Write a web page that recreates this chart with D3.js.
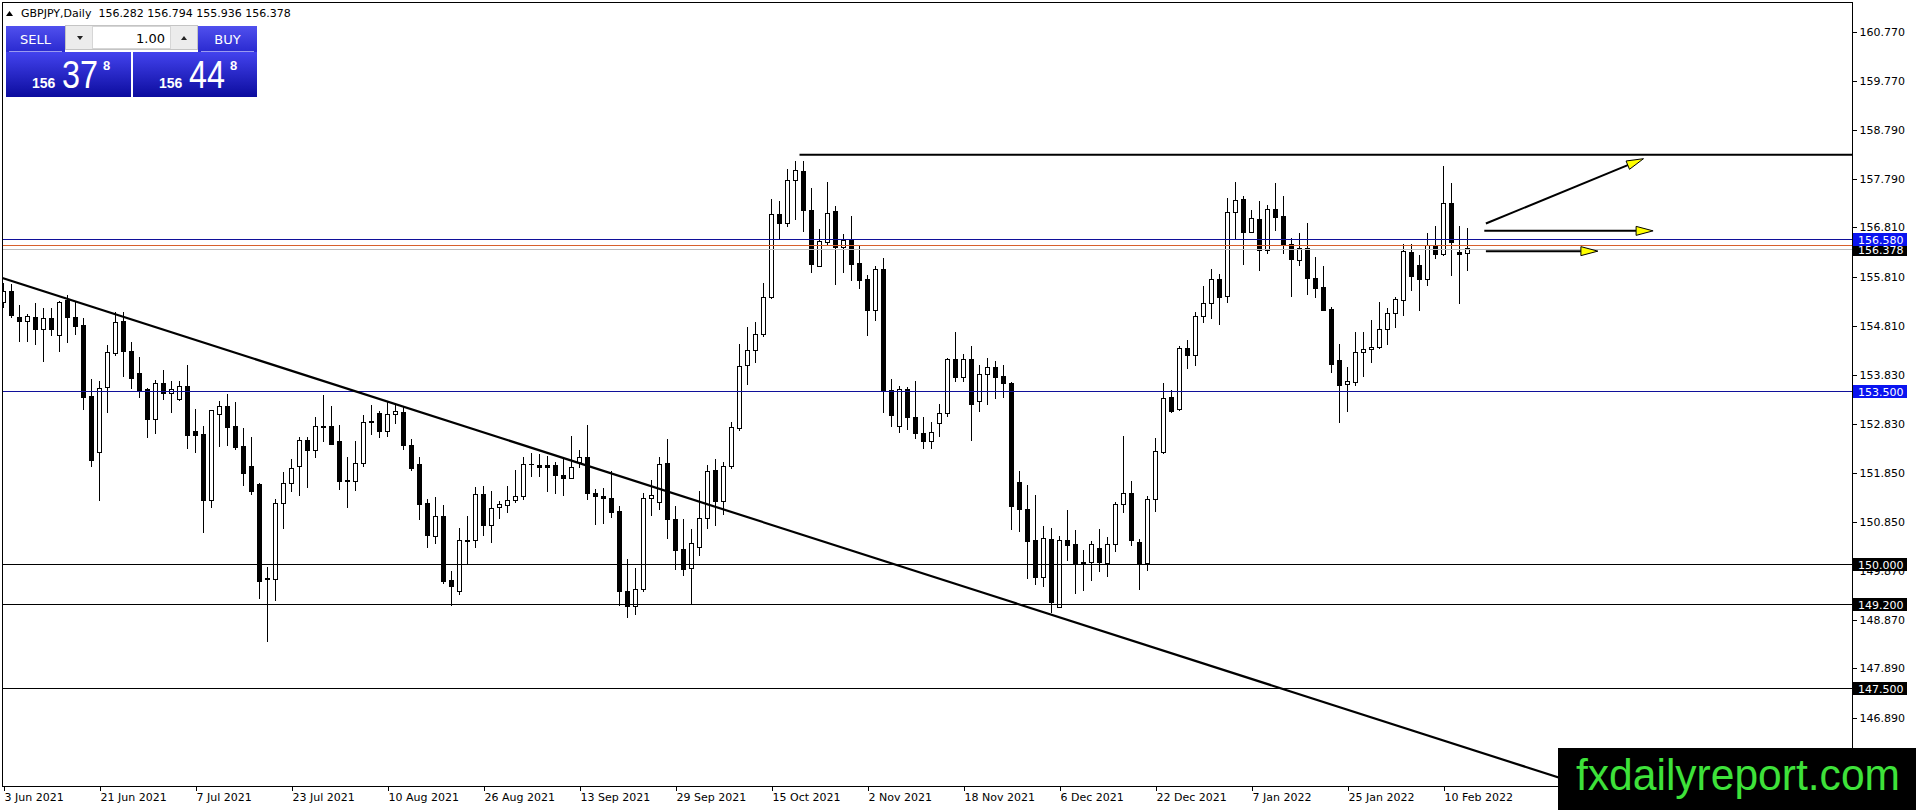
<!DOCTYPE html>
<html>
<head>
<meta charset="utf-8">
<script src="https://cdn.jsdelivr.net/npm/d3@7"></script>
<style>
html, body { margin: 0; padding: 0; background: #fff; overflow: hidden; }
svg { display: block; }
</style>
</head>
<body>
<svg id="chart" width="1916" height="810"></svg>
<script>
// --- daily candles, 3 Jun 2021 .. 15 Feb 2022 (one value per bar) ---
const opens = [
  155.30,155.52,154.98,154.91,154.98,154.74,154.96,154.63,155.33,154.98,
  154.82,153.39,152.26,153.58,154.25,154.90,154.29,153.86,153.53,152.93,
  153.66,153.45,153.32,153.60,152.69,152.62,151.29,153.03,153.19,152.79,
  152.37,151.97,151.61,149.70,149.68,151.22,151.62,151.98,152.49,152.30,
  152.79,152.79,152.48,151.68,151.68,152.03,152.87,153.04,152.69,153.02,
  153.06,152.40,152.01,151.23,150.55,150.97,149.67,149.44,150.47,150.47,
  151.40,150.77,151.15,151.19,151.29,151.37,152.02,152.00,151.99,151.99,
  151.79,151.74,152.06,152.16,151.42,151.36,151.32,151.07,149.45,149.15,
  149.48,151.32,151.24,152.03,150.91,150.29,149.90,150.33,150.93,151.89,
  151.27,151.98,152.74,154.01,154.33,154.65,155.39,157.07,156.89,157.76,
  157.94,157.16,156.02,156.50,157.13,156.41,156.55,156.07,155.75,155.13,
  155.96,153.52,152.78,153.53,152.97,152.64,152.48,152.85,153.05,154.14,
  153.77,154.14,153.28,153.83,153.97,153.80,153.66,151.65,151.11,150.47,
  149.72,150.50,149.13,150.47,150.39,150.04,150.04,150.32,150.02,150.40,
  151.21,151.43,150.44,150.01,151.31,152.26,153.36,153.12,154.37,154.21,
  155.00,155.28,155.75,155.41,157.12,157.37,156.71,156.98,156.35,157.17,
  157.03,156.47,156.14,156.39,155.78,155.59,155.14,154.11,153.64,153.67,
  154.28,154.34,154.39,154.75,155.07,155.33,156.31,156.03,155.76,156.45,
  156.26,157.29,156.31,156.282
];
const highs = [
  155.69,155.67,155.25,155.06,155.29,155.18,155.18,155.32,155.45,155.30,
  154.98,153.75,153.70,154.44,155.09,155.09,154.50,154.19,153.56,153.73,
  153.93,153.70,153.71,154.03,153.14,152.80,153.12,153.30,153.45,153.27,
  152.75,152.57,151.63,149.95,151.31,151.87,152.13,152.57,152.57,152.97,
  153.41,153.19,152.82,152.17,152.48,153.02,153.22,153.09,153.28,153.24,
  153.19,152.53,152.17,151.31,151.36,151.19,149.85,150.73,150.98,151.56,
  151.57,151.47,151.27,151.57,151.91,152.16,152.24,152.22,152.19,152.06,
  152.14,152.59,152.30,152.81,151.52,151.54,151.89,151.17,150.11,149.92,
  151.44,151.71,152.16,152.53,151.17,150.91,150.71,151.47,152.01,152.12,
  152.06,152.88,154.46,154.79,154.90,155.69,157.38,157.34,158.00,158.16,
  158.16,157.61,156.77,157.72,157.24,156.67,157.05,156.45,155.85,156.03,
  156.20,153.74,153.61,153.59,153.70,152.97,152.88,153.23,154.16,154.69,
  154.24,154.41,154.02,154.17,154.10,154.02,153.68,151.89,151.60,151.40,
  150.77,150.73,150.56,151.10,150.68,150.29,150.47,150.71,150.54,151.26,
  152.59,151.68,150.50,151.38,152.55,153.66,153.53,154.42,154.54,155.09,
  155.63,155.97,155.86,157.41,157.73,157.45,157.17,157.34,157.26,157.71,
  157.44,156.59,156.70,156.89,156.21,156.03,155.20,154.45,153.98,154.70,
  154.69,154.94,155.30,155.18,155.41,156.47,156.47,156.26,156.70,156.84,
  158.05,157.70,156.84,156.794
];
const lows = [
  155.18,154.98,154.50,154.50,154.44,154.08,154.61,154.28,154.48,154.63,
  153.11,151.96,151.27,153.05,154.20,153.78,153.55,153.36,152.56,152.63,
  153.31,153.05,153.29,152.33,152.25,150.63,151.13,152.36,152.38,152.30,
  151.57,151.39,149.30,148.43,149.25,150.70,151.45,151.37,151.53,152.14,
  152.46,152.40,151.49,151.14,151.47,151.97,152.62,152.55,152.58,152.83,
  152.30,151.88,150.89,150.33,150.40,149.59,149.15,149.37,150.01,150.33,
  150.56,150.43,150.91,151.03,151.24,151.30,151.76,151.76,151.46,151.42,
  151.37,151.73,151.94,151.29,150.79,150.82,150.93,149.15,148.90,148.96,
  149.44,150.97,151.09,150.50,149.88,149.76,149.20,150.17,150.71,150.77,
  151.00,151.92,152.70,153.63,154.06,154.59,155.37,156.57,156.82,156.96,
  156.72,155.88,156.00,156.43,155.64,155.88,155.73,155.56,154.61,154.92,
  153.06,152.77,152.66,152.71,152.53,152.32,152.32,152.58,152.98,153.69,
  153.68,152.48,153.08,153.21,153.33,153.36,150.68,150.64,149.69,149.57,
  149.54,149.00,149.12,150.07,149.40,149.45,149.65,149.84,149.74,150.24,
  151.04,150.37,149.48,149.85,151.06,152.22,153.06,153.09,153.95,154.00,
  154.87,154.96,154.84,155.29,156.56,156.05,156.70,155.92,156.27,156.73,
  156.28,155.41,156.03,155.45,155.38,155.11,153.87,152.86,153.08,153.61,
  153.79,154.06,154.35,154.43,154.77,155.01,155.53,155.11,155.63,156.17,
  156.24,155.83,155.26,155.936
];
const closes = [
  155.52,155.03,154.91,155.00,154.74,154.96,154.74,155.30,154.99,154.81,
  153.37,152.10,153.56,154.27,154.88,154.29,153.76,153.51,152.93,153.66,
  153.46,153.53,153.59,152.60,152.60,151.29,153.10,153.19,152.77,152.36,
  151.84,151.47,149.64,149.68,151.22,151.62,151.93,152.49,152.30,152.79,
  152.77,152.42,151.68,151.69,152.03,152.87,152.88,152.69,153.02,153.08,
  152.40,151.93,151.21,150.57,150.97,149.64,149.54,150.47,150.46,151.41,
  150.77,151.13,151.20,151.28,151.37,152.02,152.01,151.95,151.96,151.79,
  151.73,151.96,152.16,151.42,151.36,151.32,151.05,149.45,149.15,149.49,
  151.32,151.38,152.01,150.91,150.28,149.89,150.42,150.93,151.87,151.27,
  151.97,152.77,153.99,154.32,154.65,155.39,157.07,156.89,157.76,157.96,
  157.15,156.05,156.53,157.09,156.41,156.55,156.05,155.73,155.13,155.96,
  153.50,153.00,153.53,152.97,152.64,152.48,152.66,153.05,154.14,153.77,
  154.14,153.23,153.83,153.97,153.78,153.65,151.16,151.11,150.46,149.72,
  150.52,149.23,150.47,150.37,150.00,150.00,150.40,150.04,150.40,151.21,
  151.43,150.48,150.01,151.31,152.28,153.35,153.09,154.37,154.21,155.00,
  155.28,155.76,155.39,157.12,157.36,156.71,157.00,156.35,157.17,157.01,
  156.46,156.16,156.38,155.77,155.57,155.12,154.04,153.62,153.70,154.28,
  154.34,154.39,154.75,155.07,155.36,156.32,155.82,155.75,156.45,156.26,
  157.29,156.51,156.27,156.378
];

// time axis: one label every 12 bars starting at bar 0
const dateLabels = ["3 Jun 2021", "21 Jun 2021", "7 Jul 2021", "23 Jul 2021", "10 Aug 2021",
  "26 Aug 2021", "13 Sep 2021", "29 Sep 2021", "15 Oct 2021", "2 Nov 2021", "18 Nov 2021",
  "6 Dec 2021", "22 Dec 2021", "7 Jan 2022", "25 Jan 2022", "10 Feb 2022"];
const dateStep = 12;

const priceTicks = [160.770, 159.770, 158.790, 157.790, 156.810, 155.810, 154.810, 153.830,
  152.830, 151.850, 150.850, 149.870, 148.870, 147.890, 146.890];

// horizontal levels drawn on the chart
const levelPrices = [156.580, 153.500, 150.000, 149.200, 147.500];
const bidPrice = 156.378;
const askPrice = 156.448;

// trend line (bar index, price) and resistance line
const trendBars = [0, 180];
const trendPrices = [155.78, 146.43];
const topLineBar = 99.5;
const topLinePrice = 158.28;

// arrows (bar index, price)
const arrowStartBars = [185.3, 185.1, 185.3];
const arrowStartPrices = [156.89, 156.74, 156.33];
const arrowEndBars = [205.0, 206.2, 199.3];
const arrowEndPrices = [158.20, 156.74, 156.33];

const symbolName = "GBPJPY,Daily";

// ---------------------------------------------------------------
const svg = d3.select("#chart");
const plotLeft = 2, plotRight = 1852, plotTop = 2, plotBottom = 786;
const fmt = d3.format(".3f");

const x = d3.scaleLinear().domain([0, 231]).range([3.5, 1851.5]);
const y = d3.scaleLinear().domain([145.51, 161.37]).range([plotBottom, plotTop]);

const defs = svg.append("defs");
defs.append("clipPath").attr("id", "plot")
  .append("rect")
  .attr("x", plotLeft).attr("y", plotTop)
  .attr("width", plotRight - plotLeft).attr("height", plotBottom - plotTop);

const grad = defs.append("linearGradient").attr("id", "btn")
  .attr("x1", 0).attr("y1", 0).attr("x2", 0).attr("y2", 1);
grad.append("stop").attr("offset", "0%").attr("stop-color", "#4343ee");
grad.append("stop").attr("offset", "100%").attr("stop-color", "#0c0c9e");

const grad2 = defs.append("linearGradient").attr("id", "btnTop")
  .attr("x1", 0).attr("y1", 0).attr("x2", 0).attr("y2", 1);
grad2.append("stop").attr("offset", "0%").attr("stop-color", "#5050ee");
grad2.append("stop").attr("offset", "100%").attr("stop-color", "#2a2ad0");

const candles = opens.map((o, i) => ({ i, o, h: highs[i], l: lows[i], c: closes[i] }));

const plot = svg.append("g").attr("clip-path", "url(#plot)");

// candles
const cg = plot.append("g").attr("shape-rendering", "crispEdges");
cg.selectAll(".wick")
  .data(candles)
  .enter()
  .append("line")
  .attr("class", "wick")
  .attr("x1", d => Math.floor(x(d.i)) + 0.5)
  .attr("x2", d => Math.floor(x(d.i)) + 0.5)
  .attr("y1", d => y(d.h))
  .attr("y2", d => y(d.l))
  .attr("stroke", "#000")
  .attr("stroke-width", 1);

cg.selectAll(".body")
  .data(candles)
  .enter()
  .append("rect")
  .attr("class", "body")
  .attr("x", d => Math.floor(x(d.i)) - 1.5)
  .attr("y", d => y(Math.max(d.o, d.c)))
  .attr("width", 4)
  .attr("height", d => Math.abs(y(d.o) - y(d.c)))
  .attr("fill", d => d.c >= d.o ? "#fff" : "#000")
  .attr("stroke", "#000")
  .attr("stroke-width", 1);

// horizontal levels
const levelStroke = p => p > 153 ? "#10109a" : "#000";
plot.selectAll(".level")
  .data(levelPrices)
  .enter()
  .append("line")
  .attr("class", "level")
  .attr("x1", plotLeft).attr("x2", plotRight)
  .attr("y1", d => Math.round(y(d)) + 0.5)
  .attr("y2", d => Math.round(y(d)) + 0.5)
  .attr("stroke", d => levelStroke(d))
  .attr("stroke-width", 1);

// ask / bid lines
plot.append("line")
  .attr("x1", plotLeft).attr("x2", plotRight)
  .attr("y1", Math.round(y(askPrice)) + 0.5).attr("y2", Math.round(y(askPrice)) + 0.5)
  .attr("stroke", "#d8602c").attr("stroke-width", 1);
plot.append("line")
  .attr("x1", plotLeft).attr("x2", plotRight)
  .attr("y1", Math.round(y(bidPrice)) + 0.5).attr("y2", Math.round(y(bidPrice)) + 0.5)
  .attr("stroke", "#bdbdbd").attr("stroke-width", 1);

// trend line, extended as a ray to the right
const slope = (trendPrices[1] - trendPrices[0]) / (trendBars[1] - trendBars[0]);
const rayEnd = 231;
plot.append("line")
  .attr("x1", 0)
  .attr("y1", y(trendPrices[0] + slope * (x.invert(0) - trendBars[0])))
  .attr("x2", x(rayEnd))
  .attr("y2", y(trendPrices[0] + slope * (rayEnd - trendBars[0])))
  .attr("stroke", "#000").attr("stroke-width", 2.2);

plot.append("line")
  .attr("x1", x(topLineBar)).attr("x2", plotRight)
  .attr("y1", y(topLinePrice)).attr("y2", y(topLinePrice))
  .attr("stroke", "#000").attr("stroke-width", 2.2);

// arrows
arrowStartBars.forEach((b, k) => {
  const x0 = x(b), y0 = y(arrowStartPrices[k]);
  const x1 = x(arrowEndBars[k]), y1 = y(arrowEndPrices[k]);
  const ang = Math.atan2(y1 - y0, x1 - x0);
  const len = 17, half = 4.5;
  const bx = x1 - len * Math.cos(ang), by = y1 - len * Math.sin(ang);
  plot.append("line")
    .attr("x1", x0).attr("y1", y0).attr("x2", bx).attr("y2", by)
    .attr("stroke", "#000").attr("stroke-width", 2);
  const pts = [
    [x1, y1],
    [bx + half * Math.sin(ang), by - half * Math.cos(ang)],
    [bx - half * Math.sin(ang), by + half * Math.cos(ang)]
  ];
  plot.append("path")
    .attr("d", "M" + pts.map(p => p.join(",")).join("L") + "Z")
    .attr("fill", "#ffff00")
    .attr("stroke", "#000")
    .attr("stroke-width", 1);
});

// frame
svg.append("rect")
  .attr("x", plotLeft + 0.5).attr("y", plotTop + 0.5)
  .attr("width", plotRight - plotLeft).attr("height", plotBottom - plotTop)
  .attr("fill", "none").attr("stroke", "#000").attr("stroke-width", 1)
  .attr("shape-rendering", "crispEdges");

// price axis
const yAxis = d3.axisRight(y)
  .tickValues(priceTicks)
  .tickFormat(fmt)
  .tickSize(4)
  .tickPadding(3);
const gy = svg.append("g")
  .attr("transform", `translate(${plotRight + 0.5},0)`)
  .call(yAxis);
gy.select(".domain").remove();
gy.attr("font-family", "DejaVu Sans").attr("font-size", 11);
gy.selectAll("text").attr("fill", "#000");
gy.selectAll("line").attr("shape-rendering", "crispEdges");

// time axis
const xAxis = d3.axisBottom(x)
  .tickValues(dateLabels.map((d, i) => i * dateStep))
  .tickFormat((d, i) => dateLabels[i])
  .tickSize(4)
  .tickPadding(3);
const gx = svg.append("g")
  .attr("transform", `translate(0.5,${plotBottom + 0.5})`)
  .call(xAxis);
gx.select(".domain").remove();
gx.attr("font-family", "DejaVu Sans").attr("font-size", 11);
gx.selectAll("text").attr("text-anchor", "start").attr("x", 0).attr("fill", "#000");
gx.selectAll("line").attr("shape-rendering", "crispEdges");

// price labels on the right
function priceLabel(p, bg) {
  const yy = Math.round(y(p));
  svg.append("rect")
    .attr("x", plotRight + 1).attr("y", yy - 6)
    .attr("width", 54).attr("height", 13)
    .attr("fill", bg);
  svg.append("text")
    .attr("x", plotRight + 6).attr("y", yy + 5)
    .attr("font-family", "DejaVu Sans").attr("font-size", 11)
    .attr("fill", "#fff")
    .text(fmt(p));
}
priceLabel(bidPrice, "#000");
levelPrices.forEach(p => priceLabel(p, p > 153 ? "#0a14f0" : "#000"));

// one-click trading panel
const panel = svg.append("g").attr("font-family", "DejaVu Sans");
panel.append("path").attr("d", "M6,16 L9.5,11 L13,16 Z").attr("fill", "#000");
panel.append("text")
  .attr("x", 21).attr("y", 17)
  .attr("font-size", 11)
  .style("white-space", "pre")
  .text(`${symbolName}  ${[opens, highs, lows, closes].map(a => fmt(a[a.length - 1])).join(" ")}`);

// sell / buy headers
[[6, "SELL"], [198, "BUY"]].forEach(([bx, label]) => {
  panel.append("rect").attr("x", bx).attr("y", 26).attr("width", 59).attr("height", 26)
    .attr("fill", "url(#btnTop)");
  panel.append("line").attr("x1", bx + 3).attr("x2", bx + 56).attr("y1", 51.5).attr("y2", 51.5)
    .attr("stroke", "#9a9af0").attr("stroke-width", 1);
  panel.append("text").attr("x", bx + 29.5).attr("y", 44)
    .attr("text-anchor", "middle").attr("font-size", 13).attr("fill", "#fff")
    .text(label);
});

// lot box
panel.append("rect").attr("x", 65.5).attr("y", 25.5).attr("width", 132).attr("height", 24)
  .attr("fill", "#ececec").attr("stroke", "#c4c4c4");
panel.append("rect").attr("x", 92.5).attr("y", 26.5).attr("width", 78).attr("height", 22)
  .attr("fill", "#fff").attr("stroke", "#d6d6d6");
panel.append("path").attr("d", "M77,36 L83,36 L80,40 Z").attr("fill", "#222");
panel.append("path").attr("d", "M181,40 L187,40 L184,36 Z").attr("fill", "#222");
panel.append("text").attr("x", 165).attr("y", 43).attr("text-anchor", "end")
  .attr("font-size", 13).attr("fill", "#000").text("1.00");

// quote boxes
function quoteBox(bx, w, price) {
  const s = fmt(price);
  panel.append("rect").attr("x", bx).attr("y", 52).attr("width", w).attr("height", 45)
    .attr("fill", "url(#btn)");
  panel.append("text").attr("x", bx + 26).attr("y", 88)
    .attr("font-family", "Liberation Sans").attr("font-weight", "bold")
    .attr("font-size", 14).attr("fill", "#fff").text(s.slice(0, 3));
  panel.append("text").attr("x", bx + 56).attr("y", 88)
    .attr("font-family", "Liberation Sans").attr("font-size", 39)
    .attr("textLength", 36).attr("lengthAdjust", "spacingAndGlyphs")
    .attr("fill", "#fff").text(s.slice(4, 6));
  panel.append("text").attr("x", bx + 97).attr("y", 70)
    .attr("font-family", "Liberation Sans").attr("font-weight", "bold")
    .attr("font-size", 13).attr("fill", "#fff").text(s.slice(6));
}
quoteBox(6, 125, bidPrice);
quoteBox(133, 124, askPrice);

// watermark
svg.append("rect").attr("x", 1558).attr("y", 748).attr("width", 358).attr("height", 62)
  .attr("fill", "#000");
svg.append("text").attr("x", 1576).attr("y", 790)
  .attr("font-family", "Liberation Sans").attr("font-size", 44)
  .attr("textLength", 324).attr("lengthAdjust", "spacingAndGlyphs")
  .attr("fill", "#3ee23a").text("fxdailyreport.com");
</script>
</body>
</html>
